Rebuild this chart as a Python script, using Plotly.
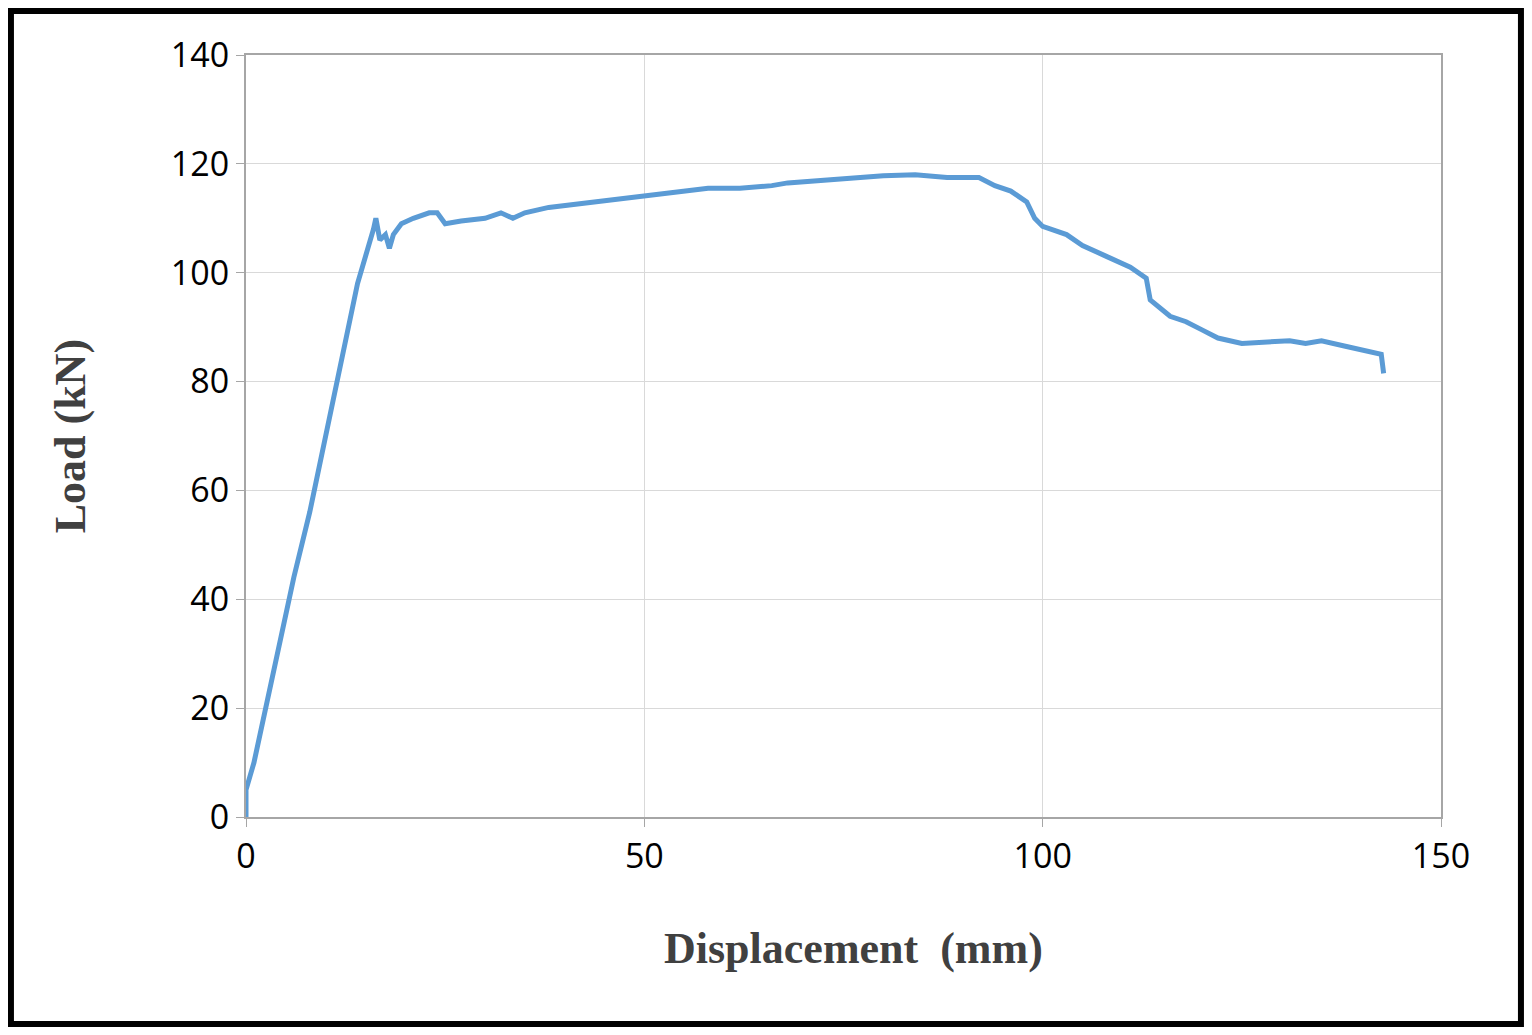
import plotly.graph_objects as go

# displacement (mm) and load (kN)
disp = [0, 0, 1, 2, 4, 6, 8, 10, 12, 14, 16, 16.3, 16.8, 17.5, 18, 18.5, 19.5, 21, 23, 24,
        25, 27, 30, 32, 33.5, 35, 38, 41, 44, 47, 50, 53, 56, 58, 62, 66, 68, 72, 76, 80,
        84, 88, 92, 94, 96, 98, 99, 100, 103, 105, 108, 111, 113, 113.5, 116, 118, 120,
        122, 125, 128, 131, 133, 135, 138, 141, 142.5, 142.8]
load = [0, 5, 10, 17, 30, 44, 56, 70, 85, 98, 108, 110, 106, 107, 104.5, 107, 109, 110, 111, 111,
        109, 109.5, 110, 111, 110, 111, 112, 112.5, 113, 113.5, 114, 114.5, 115, 115.5, 115.5, 116, 116.5, 117, 117.5, 117.8,
        118, 117.5, 117.5, 116, 115, 113, 110, 108.5, 107, 105, 103, 101, 99, 95, 92, 91, 89.5,
        88, 87, 87.3, 87.5, 87, 87.5, 86.5, 85.5, 85, 81.5]

x_ticks = [0, 50, 100, 150]
y_ticks = [0, 20, 40, 60, 80, 100, 120, 140]

fig = go.Figure(go.Scatter(x=disp, y=load, mode="lines",
                           line=dict(color="#5B9BD5", width=5), showlegend=False))

axis_common = dict(showgrid=True, gridcolor="#D9D9D9", gridwidth=1,
                   showline=True, linecolor="#A6A6A6", linewidth=2, mirror=True,
                   ticks="outside", tickcolor="#A6A6A6", ticklen=8, zeroline=False,
                   tickfont=dict(family="Open Sans", size=34, color="black"))
fig.update_xaxes(range=[0, 150], tickvals=x_ticks, **axis_common)
fig.update_yaxes(range=[0, 140], tickvals=y_ticks, **axis_common)

title_font = dict(family="Liberation Serif", size=44, color="#404040")
fig.update_layout(
    width=1516, height=1019, plot_bgcolor="white", paper_bgcolor="white",
    margin=dict(l=238, r=83, t=47, b=210),
    annotations=[
        dict(text="<b>Displacement  (mm)</b>", xref="paper", yref="paper", x=0.508, y=-0.172,
             showarrow=False, font=title_font, xanchor="center", yanchor="middle"),
        dict(text="<b>Load (kN)</b>", xref="paper", yref="paper", x=-0.147, y=0.5, textangle=-90,
             showarrow=False, font=title_font, xanchor="center", yanchor="middle"),
    ],
    shapes=[dict(type="rect", xref="paper", yref="paper", x0=-0.1967, x1=1.0669, y0=-0.2717, y1=1.0577,
                 line=dict(color="black", width=6))],
)

fig.write_html("out.html")
